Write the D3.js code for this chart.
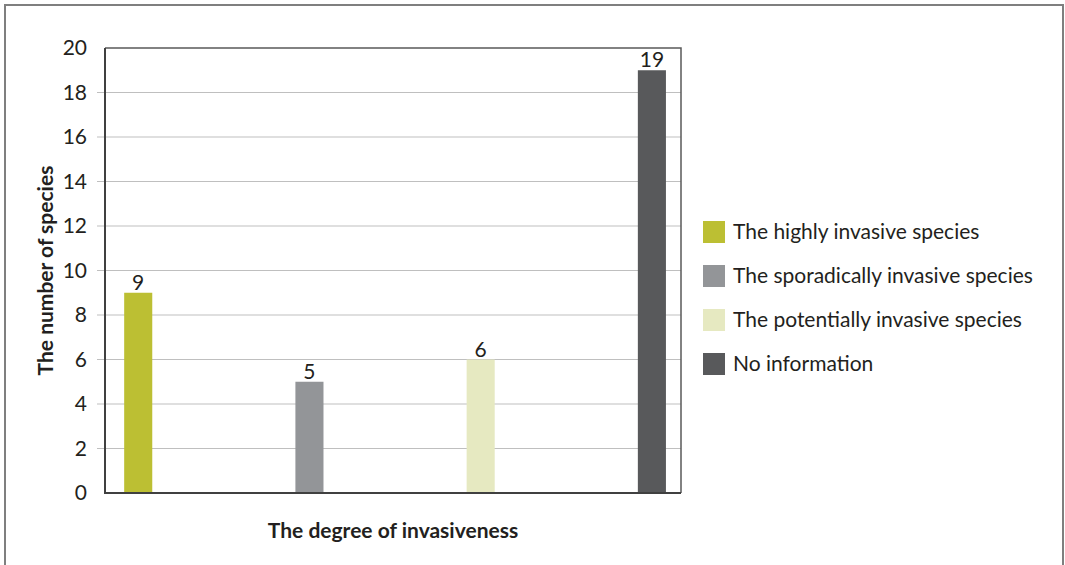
<!DOCTYPE html>
<html>
<head>
<meta charset="utf-8">
<script src="https://cdn.jsdelivr.net/npm/d3@7"></script>
<style>
    body { margin: 0; background: #fff; }
    text { font-family: Lato, "Open Sans", sans-serif; fill: #231f20; }
    .grid line { stroke: #bfbfbf; stroke-width: 1px; }
</style>
</head>
<body>
<div id="chart"></div>
<script>
// data
const categories = ['The highly invasive species', 'The sporadically invasive species',
                    'The potentially invasive species', 'No information'];
const values = [9, 5, 6, 19];
const colors = ['#bcbf33', '#939598', '#e6e9c1', '#58595b'];
const yTicks = [0, 2, 4, 6, 8, 10, 12, 14, 16, 18, 20];

const W = 1065, H = 565;
const plot = {left: 105, top: 48, right: 681, bottom: 493};
const fs = '21px';

const svg = d3.select('#chart').append('svg')
    .attr('width', W)
    .attr('height', H);

// outer frame (no bottom edge visible)
svg.append('path')
    .attr('d', 'M5,' + H + 'V5H1063V' + H)
    .attr('fill', 'none')
    .attr('stroke', '#7f7f7f')
    .attr('stroke-width', 2);

let y = d3.scaleLinear().domain([0, 20]).range([plot.bottom, plot.top]);
let x = d3.scaleBand().domain(categories)
    .range([plot.left, plot.right])
    .paddingInner(0.836)
    .paddingOuter(0.1)
    .align(0.56);

// gridlines + tick marks
svg.append('g')
    .attr('class', 'grid')
    .selectAll('line')
    .data(yTicks.filter(function(d){return d > 0 && d < 20;}))
    .enter()
    .append('line')
    .attr('x1', plot.left - 8)
    .attr('x2', plot.right)
    .attr('y1', function(d){return y(d);})
    .attr('y2', function(d){return y(d);});

// tick labels
svg.append('g')
    .selectAll('text')
    .data(yTicks)
    .enter()
    .append('text')
    .attr('x', 87)
    .attr('y', function(d){return y(d);})
    .attr('dy', '0.35em')
    .attr('text-anchor', 'end')
    .style('font-size', fs)
    .text(function(d){return d;});

// bars
svg.append('g')
    .selectAll('rect')
    .data(values)
    .enter()
    .append('rect')
    .attr('x', function(d, i){return x(categories[i]);})
    .attr('width', x.bandwidth())
    .attr('y', function(d){return y(d);})
    .attr('height', function(d){return y(0) - y(d);})
    .attr('fill', function(d, i){return colors[i];});

// value labels
svg.append('g')
    .selectAll('text')
    .data(values)
    .enter()
    .append('text')
    .attr('x', function(d, i){return x(categories[i]) + x.bandwidth() / 2;})
    .attr('y', function(d){return y(d) - 3;})
    .attr('text-anchor', 'middle')
    .style('font-size', fs)
    .text(function(d){return d;});

// plot border: top/right light, left/bottom axis dark
svg.append('path')
    .attr('d', 'M' + plot.left + ',' + plot.top + 'H' + plot.right + 'V' + plot.bottom)
    .attr('fill', 'none')
    .attr('stroke', '#595959')
    .attr('stroke-width', 1.5);
svg.append('path')
    .attr('d', 'M' + plot.left + ',' + plot.top + 'V' + plot.bottom + 'H' + plot.right)
    .attr('fill', 'none')
    .attr('stroke', '#404040')
    .attr('stroke-width', 2);

// axis titles
svg.append('text')
    .attr('x', (plot.left + plot.right) / 2)
    .attr('y', 538)
    .attr('text-anchor', 'middle')
    .style('font-size', fs)
    .style('font-weight', 'bold')
    .text('The degree of invasiveness');

svg.append('text')
    .attr('transform', 'translate(53,' + (plot.top + plot.bottom) / 2 + ') rotate(-90)')
    .attr('text-anchor', 'middle')
    .style('font-size', fs)
    .style('font-weight', 'bold')
    .text('The number of species');

// legend
let legend = svg.append('g')
    .selectAll('g')
    .data(categories)
    .enter()
    .append('g')
    .attr('transform', function(d, i){return 'translate(703,' + (232 + i * 44) + ')';});

legend.append('rect')
    .attr('x', 0)
    .attr('y', -11)
    .attr('width', 22)
    .attr('height', 22)
    .attr('fill', function(d, i){return colors[i];});

legend.append('text')
    .attr('x', 30)
    .attr('y', 0)
    .attr('dy', '0.35em')
    .style('font-size', fs)
    .text(function(d){return d;});
</script>
</body>
</html>
